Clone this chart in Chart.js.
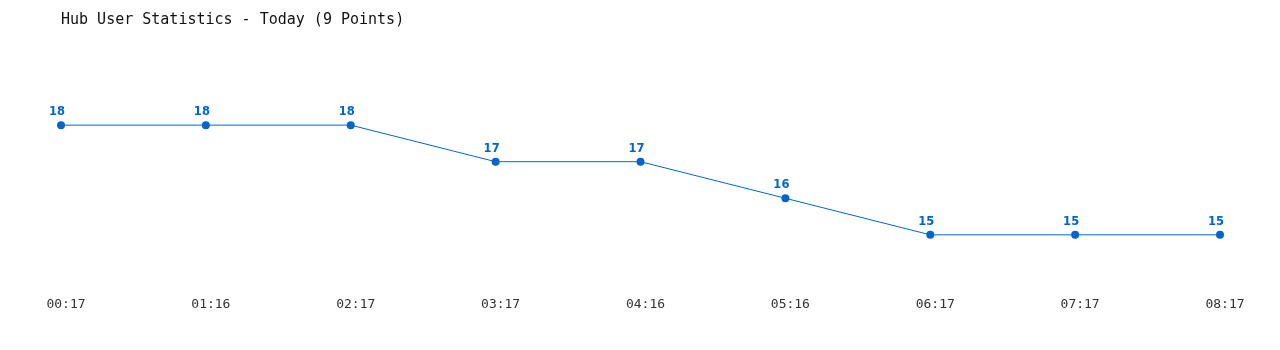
<!DOCTYPE html>
<html>
<head>
<meta charset="utf-8">
<script src="https://cdn.jsdelivr.net/npm/chart.js@4/dist/chart.umd.min.js"></script>
<style>
  html, body { margin: 0; padding: 0; background: #fff; }
  #wrap { width: 1280px; height: 350px; }
</style>
</head>
<body>
<div id="wrap"><canvas id="hubChart" width="1280" height="350"></canvas></div>
<script>
/* hub user stats - today */

const times = ['00:17', '01:16', '02:17', '03:17', '04:16', '05:16', '06:17', '07:17', '08:17'];
const users = [18, 18, 18, 17, 17, 16, 15, 15, 15];

const lineBlue = '#0066cc';

// value labels above each point
const pointLabels = {
  id: 'pointLabels',
  afterDatasetsDraw(chart) {
    const ctx = chart.ctx;
    const meta = chart.getDatasetMeta(0);
    ctx.save();
    ctx.font = 'bold 11.5px "DejaVu Sans", sans-serif';
    ctx.fillStyle = lineBlue;
    ctx.textAlign = 'center';
    ctx.textBaseline = 'middle';
    meta.data.forEach((pt, i) => {
      ctx.fillText(String(users[i]), pt.x - 4, pt.y - 13);
    });
    ctx.restore();
  }
};

new Chart(document.getElementById('hubChart'), {
  type: 'line',
  data: {
    labels: times,
    datasets: [{
      label: 'Users',
      data: users,
      borderColor: lineBlue,
      backgroundColor: lineBlue,
      borderWidth: 1,
      pointRadius: 4,
      pointHoverRadius: 4,
      pointBorderWidth: 0,
      tension: 0
    }]
  },
  options: {
    responsive: false,
    animation: false,
    layout: {
      padding: { left: 61, right: 60, top: 0, bottom: 13 }
    },
    plugins: {
      legend: { display: false },
      tooltip: { enabled: false },
      title: {
        display: true,
        text: 'Hub User Statistics - Today (9 Points)',
        align: 'start',
        color: '#111',
        font: { family: '"DejaVu Sans Mono", monospace', size: 15, weight: 'normal' },
        padding: { top: 11, bottom: 23 }
      }
    },
    scales: {
      x: {
        offset: false,
        grid: { display: false, drawTicks: false },
        border: { display: false },
        ticks: {
          color: '#333',
          padding: 25,
          labelOffset: 5,
          maxRotation: 0,
          autoSkip: false,
          font: { family: '"DejaVu Sans Mono", monospace', size: 13 }
        }
      },
      y: {
        display: false,
        min: 14,
        max: 20
      }
    }
  },
  plugins: [pointLabels]
});
</script>
</body>
</html>
